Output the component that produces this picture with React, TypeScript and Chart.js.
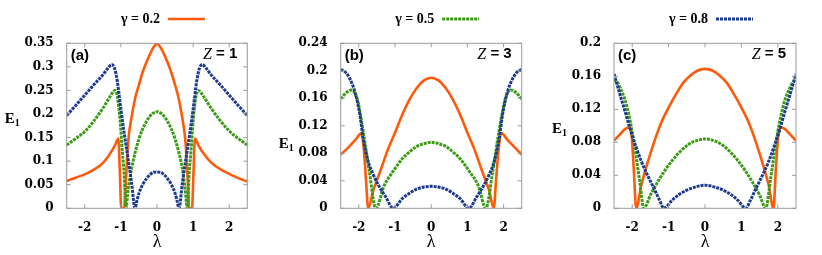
import React, { useEffect, useRef } from 'react';
import { Chart, registerables } from 'chart.js';

Chart.register(...registerables);

// ---------- data ----------
const X_TICKS = [-2, -1, 0, 1, 2];
const Y_TICKS_A = ['0', '0.05', '0.1', '0.15', '0.2', '0.25', '0.3', '0.35'];
const Y_TICKS_B = ['0', '0.04', '0.08', '0.12', '0.16', '0.2', '0.24'];
const Y_TICKS_C = ['0', '0.04', '0.08', '0.12', '0.16', '0.2'];

const LEGEND_LABELS = ['γ = 0.2', 'γ = 0.5', 'γ = 0.8'];
const PANEL_TAGS = ['(a)', '(b)', '(c)'];
const Z_VALUES = ['1', '3', '5'];
const X_TITLE = 'λ';

// panel (a), Z = 1
const A_G02 = [[-2.5,0.058],[-2.25,0.065],[-2,0.072],[-1.75,0.082],[-1.5,0.096],[-1.3,0.116],[-1.16,0.134],[-1.07,0.148],[-1.03,0.08],[-0.99,0],[-0.91,0],[-0.86,0.06],[-0.8,0.14],[-0.7,0.195],[-0.6,0.235],[-0.5,0.262],[-0.4,0.288],[-0.3,0.308],[-0.2,0.326],[-0.1,0.341],[0,0.349],[0.1,0.341],[0.2,0.326],[0.3,0.308],[0.4,0.287],[0.5,0.262],[0.6,0.233],[0.7,0.192],[0.79,0.14],[0.85,0.06],[0.89,0],[0.97,0],[1.01,0.075],[1.05,0.148],[1.15,0.133],[1.3,0.115],[1.5,0.097],[1.75,0.083],[2,0.073],[2.25,0.064],[2.5,0.057]];
const A_G05 = [[-2.5,0.134],[-2.25,0.148],[-2,0.163],[-1.75,0.185],[-1.5,0.212],[-1.3,0.237],[-1.16,0.25],[-1.1,0.238],[-1.02,0.185],[-0.96,0.12],[-0.91,0.075],[-0.86,0],[-0.8,0.04],[-0.7,0.085],[-0.6,0.12],[-0.5,0.147],[-0.4,0.168],[-0.3,0.183],[-0.2,0.195],[-0.1,0.202],[0,0.205],[0.1,0.202],[0.2,0.195],[0.3,0.183],[0.4,0.168],[0.5,0.147],[0.6,0.12],[0.7,0.085],[0.78,0.04],[0.84,0],[0.89,0.075],[0.94,0.12],[1.0,0.185],[1.08,0.238],[1.14,0.25],[1.3,0.236],[1.5,0.212],[1.75,0.186],[2,0.164],[2.25,0.148],[2.5,0.134]];
const A_G08 = [[-2.5,0.197],[-2.25,0.218],[-2,0.24],[-1.75,0.262],[-1.5,0.283],[-1.35,0.298],[-1.25,0.305],[-1.18,0.298],[-1.1,0.27],[-1.0,0.21],[-0.9,0.155],[-0.8,0.105],[-0.7,0.052],[-0.61,0],[-0.55,0.018],[-0.5,0.032],[-0.4,0.05],[-0.3,0.062],[-0.2,0.071],[-0.1,0.076],[0,0.077],[0.1,0.076],[0.2,0.071],[0.3,0.062],[0.4,0.05],[0.5,0.032],[0.55,0.018],[0.61,0],[0.7,0.052],[0.8,0.105],[0.9,0.155],[1.0,0.21],[1.1,0.27],[1.18,0.298],[1.25,0.305],[1.35,0.298],[1.5,0.283],[1.75,0.262],[2,0.24],[2.25,0.218],[2.5,0.197]];

// panel (b), Z = 3
const B_G02 = [[-2.5,0.078],[-2.3,0.088],[-2.1,0.099],[-1.93,0.109],[-1.86,0.085],[-1.8,0.04],[-1.74,0],[-1.6,0.026],[-1.4,0.055],[-1.2,0.085],[-1.0,0.11],[-0.8,0.136],[-0.6,0.158],[-0.4,0.175],[-0.2,0.186],[0,0.19],[0.2,0.186],[0.4,0.175],[0.6,0.158],[0.8,0.136],[1.0,0.11],[1.2,0.085],[1.4,0.055],[1.6,0.026],[1.73,0],[1.79,0.04],[1.86,0.085],[1.95,0.109],[2.1,0.1],[2.3,0.089],[2.5,0.078]];
const B_G05 = [[-2.5,0.159],[-2.35,0.168],[-2.2,0.172],[-2.05,0.16],[-1.95,0.135],[-1.85,0.102],[-1.71,0.054],[-1.53,0],[-1.3,0.033],[-1.05,0.054],[-0.8,0.072],[-0.6,0.082],[-0.4,0.09],[-0.2,0.094],[0,0.096],[0.2,0.094],[0.4,0.09],[0.6,0.082],[0.8,0.072],[1.05,0.054],[1.3,0.033],[1.51,0],[1.7,0.054],[1.84,0.102],[1.95,0.135],[2.05,0.16],[2.2,0.172],[2.35,0.168],[2.5,0.159]];
const B_G08 = [[-2.5,0.202],[-2.35,0.197],[-2.2,0.183],[-2.1,0.168],[-1.97,0.136],[-1.88,0.102],[-1.74,0.068],[-1.6,0.049],[-1.46,0.034],[-1.25,0.016],[-1.05,0],[-0.8,0.014],[-0.6,0.022],[-0.4,0.028],[-0.2,0.031],[0,0.032],[0.2,0.031],[0.4,0.028],[0.6,0.022],[0.8,0.014],[1.04,0],[1.25,0.016],[1.46,0.034],[1.6,0.049],[1.74,0.068],[1.88,0.102],[1.97,0.136],[2.1,0.168],[2.2,0.183],[2.35,0.197],[2.5,0.202]];

// panel (c), Z = 5
const C_G02 = [[-2.5,0.082],[-2.35,0.089],[-2.2,0.096],[-2.1,0.098],[-2.02,0.09],[-1.96,0.05],[-1.89,0],[-1.75,0.028],[-1.6,0.052],[-1.4,0.08],[-1.2,0.104],[-1.0,0.122],[-0.8,0.138],[-0.6,0.152],[-0.4,0.161],[-0.2,0.167],[0,0.169],[0.2,0.167],[0.4,0.161],[0.6,0.152],[0.8,0.138],[1.0,0.122],[1.2,0.104],[1.4,0.08],[1.6,0.052],[1.75,0.028],[1.88,0],[1.95,0.05],[2.02,0.09],[2.1,0.098],[2.2,0.096],[2.35,0.089],[2.5,0.082]];
const C_G05 = [[-2.5,0.156],[-2.4,0.152],[-2.3,0.143],[-2.2,0.132],[-2.1,0.115],[-2.0,0.093],[-1.9,0.065],[-1.8,0.035],[-1.68,0],[-1.5,0.016],[-1.3,0.032],[-1.1,0.046],[-0.9,0.058],[-0.7,0.068],[-0.5,0.076],[-0.3,0.081],[0,0.084],[0.3,0.081],[0.5,0.076],[0.7,0.068],[0.9,0.058],[1.1,0.046],[1.3,0.032],[1.5,0.016],[1.67,0],[1.8,0.035],[1.9,0.065],[2.0,0.093],[2.1,0.115],[2.2,0.132],[2.3,0.143],[2.4,0.152],[2.5,0.156]];
const C_G08 = [[-2.5,0.163],[-2.35,0.14],[-2.2,0.118],[-2.05,0.095],[-1.9,0.075],[-1.75,0.057],[-1.6,0.042],[-1.4,0.024],[-1.25,0.01],[-1.13,0],[-0.9,0.01],[-0.7,0.017],[-0.5,0.022],[-0.25,0.026],[0,0.028],[0.25,0.026],[0.5,0.022],[0.7,0.017],[0.9,0.01],[1.12,0],[1.25,0.01],[1.4,0.024],[1.6,0.042],[1.75,0.057],[1.9,0.075],[2.05,0.095],[2.2,0.118],[2.35,0.14],[2.5,0.163]];

// ---------- style / layout ----------
const COLORS = ['#ff5a0a', '#3a9c14', '#1c3a8e'];
const WIDTHS = [2.6, 3, 3];
const DASHES: number[][] = [[], [3, 1], [3, 1]];

const PANELS = [
  { series: [A_G02, A_G05, A_G08], yTicks: Y_TICKS_A, yMax: 0.35, canvasLeft: 0, canvasW: 270, yW: 66.7, padR: 22.7, eY: 119 },
  { series: [B_G02, B_G05, B_G08], yTicks: Y_TICKS_B, yMax: 0.24, canvasLeft: 274, canvasW: 270, yW: 66.7, padR: 22.3, eY: 144 },
  { series: [C_G02, C_G05, C_G08], yTicks: Y_TICKS_C, yMax: 0.2, canvasLeft: 548, canvasW: 274, yW: 66, padR: 26, eY: 129 },
];

const H = 255;
const PLOT_TOP = 43.3;
const PLOT_BOTTOM = 208.3;
const TICK_FONT = { family: '"DejaVu Serif"', size: 12, weight: 'bold' as const };

function makeDecor(idx: number) {
  return {
    id: 'decor' + idx,
    afterDraw(chart: any) {
      const p = PANELS[idx];
      const { ctx, chartArea } = chart;
      const { left, right, top, bottom } = chartArea;
      const xs = chart.scales.x;
      const ys = chart.scales.y;
      ctx.save();
      // frame
      ctx.strokeStyle = '#9a9a9a';
      ctx.lineWidth = 1;
      ctx.strokeRect(left, top, right - left, bottom - top);
      // inward ticks
      ctx.beginPath();
      X_TICKS.forEach((v) => {
        const px = xs.getPixelForValue(v);
        ctx.moveTo(px, bottom); ctx.lineTo(px, bottom - 4);
        ctx.moveTo(px, top); ctx.lineTo(px, top + 4);
      });
      p.yTicks.forEach((t) => {
        const py = ys.getPixelForValue(parseFloat(t));
        ctx.moveTo(left, py); ctx.lineTo(left + 4, py);
        ctx.moveTo(right, py); ctx.lineTo(right - 4, py);
      });
      ctx.stroke();

      ctx.fillStyle = '#000';
      // panel tag
      ctx.font = 'bold 15px "Liberation Sans"';
      ctx.textAlign = 'left';
      ctx.textBaseline = 'middle';
      ctx.fillText(PANEL_TAGS[idx], left + 4, top + 13);
      // Z = n
      ctx.textAlign = 'right';
      const eq = ' = ' + Z_VALUES[idx];
      ctx.fillText(eq, right - 10, top + 11);
      const w = ctx.measureText(eq).width;
      ctx.font = 'italic 16px "Liberation Serif"';
      ctx.fillText('Z', right - 10 - w, top + 11);

      // E1
      ctx.textAlign = 'left';
      ctx.font = 'bold 15px "Liberation Serif"';
      const ex = left - 62;
      ctx.fillText('E', ex, p.eY);
      const ew = ctx.measureText('E').width;
      ctx.font = 'bold 10px "Liberation Serif"';
      ctx.fillText('1', ex + ew, p.eY + 4);

      // lambda
      ctx.textAlign = 'center';
      ctx.font = '18px "Liberation Serif"';
      ctx.fillText(X_TITLE, (left + right) / 2, 242.5);

      // legend entry
      const cx = (left + right) / 2;
      ctx.textAlign = 'right';
      ctx.font = 'bold 14px "Liberation Serif"';
      ctx.fillText(LEGEND_LABELS[idx], cx + 3, 19);
      ctx.beginPath();
      ctx.strokeStyle = COLORS[idx];
      ctx.lineWidth = WIDTHS[idx];
      ctx.setLineDash(DASHES[idx]);
      ctx.moveTo(cx + 11, 19);
      ctx.lineTo(cx + 48, 19);
      ctx.stroke();
      ctx.restore();
    },
  };
}

function Panel({ idx }: { idx: number }) {
  const ref = useRef<HTMLCanvasElement>(null);
  const p = PANELS[idx];
  useEffect(() => {
    if (!ref.current) return;
    const chart = new Chart(ref.current, {
      type: 'line',
      data: {
        datasets: p.series.map((pts, i) => ({
          label: LEGEND_LABELS[i],
          data: pts.map(([x, y]) => ({ x, y })),
          borderColor: COLORS[i],
          borderWidth: WIDTHS[i],
          borderDash: DASHES[i],
          pointRadius: 0,
          fill: false,
          cubicInterpolationMode: 'monotone' as const,
          order: 2 - i,
        })),
      },
      options: {
        animation: false,
        responsive: false,
        layout: { padding: { left: 0, right: p.padR, top: PLOT_TOP, bottom: 0 } },
        plugins: { legend: { display: false }, tooltip: { enabled: false } },
        scales: {
          x: {
            type: 'linear',
            min: -2.5,
            max: 2.5,
            grid: { display: false },
            border: { display: false },
            ticks: { font: TICK_FONT, color: '#000', padding: 4, maxRotation: 0, callback: (v: any) => String(v) },
            afterBuildTicks: (s: any) => { s.ticks = X_TICKS.map((v) => ({ value: v })); },
            afterFit: (s: any) => { s.height = H - PLOT_BOTTOM; },
          },
          y: {
            type: 'linear',
            min: 0,
            max: p.yMax,
            grid: { display: false },
            border: { display: false },
            ticks: { font: TICK_FONT, color: '#000', padding: 5, callback: (_v: any, i: number) => p.yTicks[i] },
            afterBuildTicks: (s: any) => { s.ticks = p.yTicks.map((t) => ({ value: parseFloat(t) })); },
            afterFit: (s: any) => { s.width = p.yW; },
          },
        },
      },
      plugins: [makeDecor(idx)],
    } as any);
    return () => chart.destroy();
  }, [idx]);
  return (
    <canvas
      ref={ref}
      width={p.canvasW}
      height={H}
      style={{ position: 'absolute', left: p.canvasLeft, top: 0, width: p.canvasW, height: H }}
    />
  );
}

export default function App() {
  return (
    <div style={{ position: 'absolute', left: 0, top: 0, width: 822, height: H, background: '#fff' }}>
      {PANELS.map((_, i) => (
        <Panel key={i} idx={i} />
      ))}
    </div>
  );
}
